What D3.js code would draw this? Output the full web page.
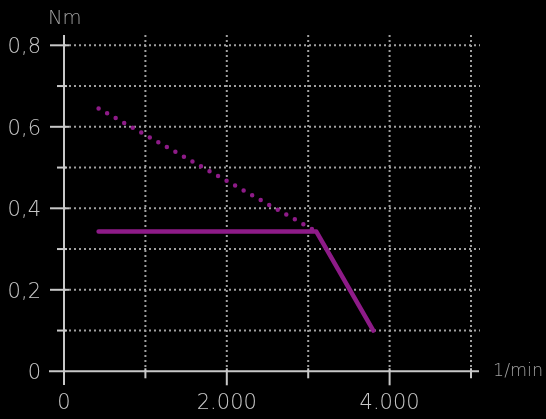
<!DOCTYPE html>
<html><head><meta charset="utf-8">
<script src="https://cdn.jsdelivr.net/npm/d3@7"></script>
<style>
html,body{margin:0;padding:0;background:#000;}
svg{display:block;}
text{font-family:"DejaVu Sans",sans-serif;font-weight:200;}
.labels{filter:grayscale(1);}
</style></head>
<body>
<svg id="c" width="546" height="419"></svg>
<script>
// Data
const xTicksMajor = [0, 2000, 4000];
const xTicksMinor = [1000, 3000, 5000];
const xTickLabels = ["0", "2.000", "4.000"];
const yTicksMajor = [0, 0.2, 0.4, 0.6, 0.8];
const yTicksMinor = [0.1, 0.3, 0.5, 0.7];
const yTickLabels = ["0", "0,2", "0,4", "0,6", "0,8"];
const solidSpeed = [425, 3100, 3800];
const solidTorque = [0.343, 0.343, 0.1];
const dottedSpeed = [425, 3100];
const dottedTorque = [0.645, 0.343];
const xUnit = "1/min", yUnit = "Nm";

const svg = d3.select("#c");
const x = d3.scaleLinear().domain([0, 5000]).range([64, 471]);
const y = d3.scaleLinear().domain([0, 0.8]).range([371.3, 45.3]);
const axisCol = "#c8c8c8", gridCol = "#a0a0a0", purple = "#8e1b88", unitCol = "#a0a0a0";

const grid = svg.append("g");
grid.selectAll("line.v").data(xTicksMajor.concat(xTicksMinor).filter(d => d > 0)).enter()
  .append("line").attr("x1", d => x(d)).attr("x2", d => x(d))
  .attr("y1", 35).attr("y2", y(0))
  .attr("stroke", gridCol).attr("stroke-width", 2).attr("stroke-dasharray", "2,3");
grid.selectAll("line.h").data(yTicksMajor.concat(yTicksMinor).filter(d => d > 0)).enter()
  .append("line").attr("x1", x(0)).attr("x2", 480)
  .attr("y1", d => y(d)).attr("y2", d => y(d))
  .attr("stroke", gridCol).attr("stroke-width", 2).attr("stroke-dasharray", "2,3");

const ax = svg.append("g").attr("stroke", axisCol).attr("stroke-width", 2);
ax.append("line").attr("x1", x(0)).attr("x2", x(0)).attr("y1", 35).attr("y2", 385);
ax.append("line").attr("x1", 49).attr("x2", 479).attr("y1", y(0)).attr("y2", y(0));
ax.selectAll("line.xm").data(xTicksMajor.filter(d => d > 0)).enter().append("line")
  .attr("x1", d => x(d)).attr("x2", d => x(d)).attr("y1", y(0) - 3).attr("y2", y(0) + 14);
ax.selectAll("line.xn").data(xTicksMinor).enter().append("line")
  .attr("x1", d => x(d)).attr("x2", d => x(d)).attr("y1", y(0) - 3).attr("y2", y(0) + 7);
ax.selectAll("line.ym").data(yTicksMajor.filter(d => d > 0)).enter().append("line")
  .attr("x1", x(0) - 14).attr("x2", x(0) + 5).attr("y1", d => y(d)).attr("y2", d => y(d));
ax.selectAll("line.yn").data(yTicksMinor).enter().append("line")
  .attr("x1", x(0) - 7).attr("x2", x(0) + 3).attr("y1", d => y(d)).attr("y2", d => y(d));

const lab = svg.append("g").attr("class", "labels");
lab.selectAll("text.xl").data(xTicksMajor).enter().append("text")
  .attr("x", d => x(d)).attr("y", 408.5).attr("text-anchor", "middle")
  .attr("font-size", 21).attr("fill", axisCol).text((d, i) => xTickLabels[i]);
lab.selectAll("text.yl").data(yTicksMajor).enter().append("text")
  .attr("x", 41).attr("y", d => y(d) + 8).attr("text-anchor", "end")
  .attr("font-size", 21).attr("fill", axisCol).text((d, i) => yTickLabels[i]);
lab.append("text").attr("x", 48).attr("y", 24).attr("font-size", 19.5)
  .attr("fill", unitCol).text(yUnit);
lab.append("text").attr("x", 493).attr("y", 376).attr("font-size", 17.5)
  .attr("fill", unitCol).text(xUnit);

const line = d3.line().x(d => x(d[0])).y(d => y(d[1]));
svg.append("path").datum(dottedSpeed.map((s, i) => [s, dottedTorque[i]]))
  .attr("d", line).attr("fill", "none").attr("stroke", purple)
  .attr("stroke-width", 4.5).attr("stroke-linecap", "round").attr("stroke-dasharray", "0,9.8");
svg.append("path").datum(solidSpeed.map((s, i) => [s, solidTorque[i]]))
  .attr("d", line).attr("fill", "none").attr("stroke", purple)
  .attr("stroke-width", 4.5).attr("stroke-linecap", "round").attr("stroke-linejoin", "round");
</script>
</body></html>
